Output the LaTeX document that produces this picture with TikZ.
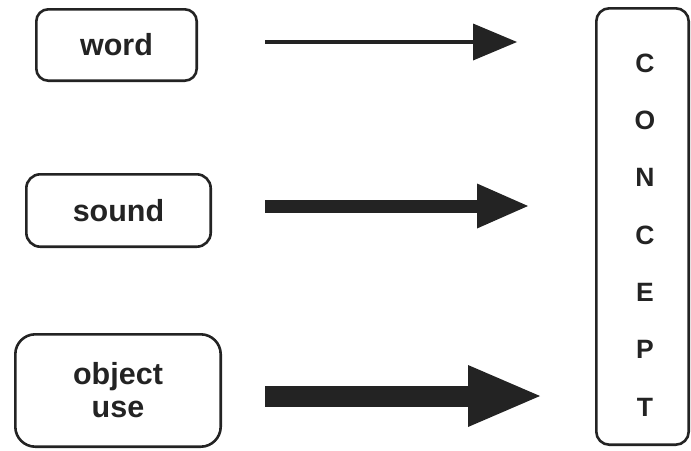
\documentclass[tikz,border=0pt]{standalone}
\usepackage{fontspec}
\setmainfont{Liberation Sans}
\usetikzlibrary{arrows.meta}
\definecolor{ink}{HTML}{232323}
\begin{document}
\begin{tikzpicture}[x=1pt,y=-1pt]
\tikzstyle{every node}+=[inner sep=0pt]
\tikzstyle{box}=[draw=ink, line width=2.6pt, rectangle, text=ink, align=center,
  font=\bfseries\fontsize{30.5}{33}\selectfont]
\tikzstyle{link}=[draw=ink, fill=ink]
\useasboundingbox (0,0) rectangle (691,450);
\node [box, rounded corners=12pt, minimum width=160.4pt, minimum height=71.4pt] (word) at (116.5,45) {word};
\node [box, rounded corners=14pt, minimum width=184.4pt, minimum height=72.4pt] (sound) at (118.5,210.5) {sound};
\node [box, rounded corners=20pt, minimum width=205.4pt, minimum height=112.4pt] (objuse) at (118,390.5) {object\\use};
\node [box, rounded corners=13pt, minimum width=92.4pt, minimum height=436.4pt] (concept) at (642.5,226.5) {};
\node [text=ink, align=center, font=\bfseries\fontsize{26.5}{57.3}\selectfont] (letters) at (645,235) {C\\O\\N\\C\\E\\P\\T};
\coordinate (w0) at (265,42);
\coordinate (w1) at (517,42);
\coordinate (s0) at (265,206);
\coordinate (s1) at (528,206);
\coordinate (o0) at (265,396);
\coordinate (o1) at (540,396);
\draw [link, line width=4pt, -{Triangle[length=44pt 0,width=37pt 0,line width=0pt]}] (w0) -- (w1);
\draw [link, line width=13pt, -{Triangle[length=51pt 0,width=45pt 0,line width=0pt]}] (s0) -- (s1);
\draw [link, line width=21pt, -{Triangle[length=72pt 0,width=62pt 0,line width=0pt]}] (o0) -- (o1);
\end{tikzpicture}
\end{document}
